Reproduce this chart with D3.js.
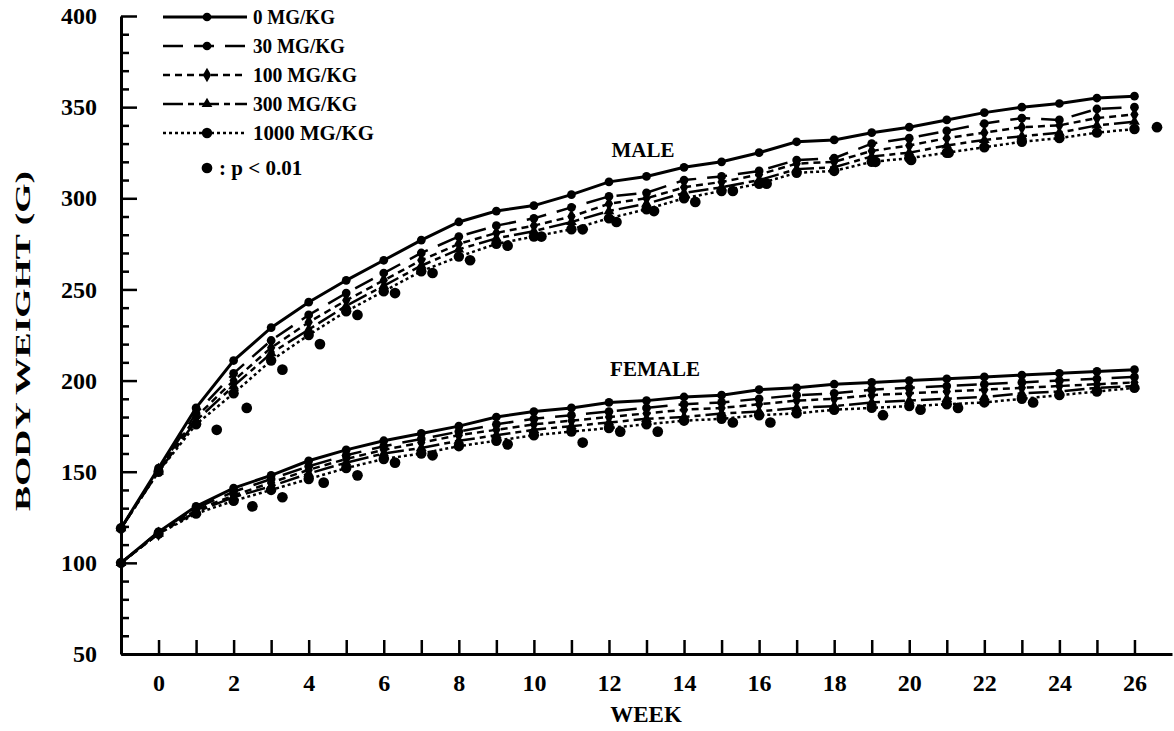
<!doctype html>
<html>
<head>
  <meta charset="utf-8">
  <script src="https://d3js.org/d3.v7.min.js"></script>
  <style>
    body {margin: 0; background: #fff;}
    text {font-family: "Liberation Serif", "DejaVu Serif", serif; font-weight: bold; fill: #000;}
    .domain {stroke: #000; stroke-width: 3;}
    .tick line {stroke: #000; stroke-width: 2.5;}
  </style>
</head>
<body>
  <svg id="chart" width="1174" height="731"></svg>
  <script>
    const width = 1174, height = 731

    // weeks (first point is pre-dosing, plotted at -1)
    const weeks = [-1, 0, 1, 2, 3, 4, 5, 6, 7, 8, 9, 10, 11, 12, 13, 14, 15, 16, 17, 18, 19, 20, 21, 22, 23, 24, 25, 26]
    const doses = ['0 MG/KG', '30 MG/KG', '100 MG/KG', '300 MG/KG', '1000 MG/KG']

    // male body weight (g)
    const male0    = [119, 152, 185, 211, 229, 243, 255, 266, 277, 287, 293, 296, 302, 309, 312, 317, 320, 325, 331, 332, 336, 339, 343, 347, 350, 352, 355, 356]
    const male30   = [119, 151, 182, 204, 222, 236, 248, 259, 270, 279, 285, 289, 295, 301, 303, 310, 312, 315, 321, 322, 330, 333, 337, 341, 344, 343, 349, 350]
    const male100  = [119, 151, 180, 200, 218, 232, 244, 255, 266, 275, 281, 285, 290, 297, 300, 306, 309, 313, 319, 320, 326, 329, 333, 336, 339, 340, 344, 346]
    const male300  = [119, 150, 178, 197, 215, 228, 241, 252, 263, 272, 278, 282, 287, 293, 297, 303, 306, 310, 316, 317, 323, 325, 329, 332, 334, 336, 340, 342]
    const male1000 = [119, 150, 176, 193, 211, 225, 238, 249, 260, 268, 275, 279, 283, 289, 294, 300, 304, 308, 314, 315, 320, 322, 325, 328, 331, 333, 336, 338]

    // female body weight (g)
    const female0    = [100, 117, 131, 141, 148, 156, 162, 167, 171, 175, 180, 183, 185, 188, 189, 191, 192, 195, 196, 198, 199, 200, 201, 202, 203, 204, 205, 206]
    const female30   = [100, 117, 130, 139, 146, 153, 159, 164, 168, 172, 176, 179, 181, 183, 185, 187, 188, 190, 192, 193, 195, 196, 197, 198, 199, 200, 201, 202]
    const female100  = [100, 116, 129, 137, 144, 151, 157, 162, 166, 170, 173, 176, 178, 180, 182, 184, 185, 187, 189, 190, 192, 193, 194, 195, 196, 197, 198, 199]
    const female300  = [100, 116, 128, 136, 142, 149, 155, 160, 163, 167, 170, 173, 175, 177, 179, 180, 182, 183, 185, 186, 188, 189, 190, 191, 193, 194, 196, 197]
    const female1000 = [100, 116, 127, 134, 140, 146, 152, 157, 160, 164, 167, 170, 172, 174, 176, 178, 179, 181, 182, 184, 185, 186, 187, 188, 190, 192, 194, 196]

    // p < 0.01 marks, drawn where they sit in the figure
    const maleStarWeek  = [1.55, 2.35, 3.3, 4.3, 5.3, 6.3, 7.3, 8.3, 9.3, 10.2, 11.3, 12.2, 13.2, 14.3, 15.3, 16.2, 19.1, 20.05, 21.05, 26.6]
    const maleStarValue = [173, 185, 206, 220, 236, 248, 259, 266, 274, 279, 283, 287, 293, 298, 304, 308, 320, 321, 325, 339]
    const femaleStarWeek  = [2.5, 3.3, 4.4, 5.3, 6.3, 7.3, 9.3, 11.3, 12.3, 13.3, 15.3, 16.3, 19.3, 20.3, 21.3, 23.3]
    const femaleStarValue = [131, 136, 144, 148, 155, 159, 165, 166, 172, 172, 177, 177, 181, 184, 185, 188]

    const yMajor = [50, 100, 150, 200, 250, 300, 350, 400]
    const yMinor = [60, 70, 80, 90, 110, 120, 130, 140, 160, 170, 180, 190, 210, 220, 230, 240, 260, 270, 280, 290, 310, 320, 330, 340, 360, 370, 380, 390]
    const xTicks = [0, 1, 2, 3, 4, 5, 6, 7, 8, 9, 10, 11, 12, 13, 14, 15, 16, 17, 18, 19, 20, 21, 22, 23, 24, 25, 26]

    const styles = [
      {dash: null,         w: 3,   sym: d3.symbolCircle,   size: 60},
      {dash: '20,11',      w: 2.5, sym: d3.symbolCircle,   size: 60},
      {dash: '7,5',        w: 2.5, sym: d3.symbolDiamond,  size: 60},
      {dash: '20,5,6,5',   w: 2.5, sym: d3.symbolTriangle, size: 50},
      {dash: '3,3',        w: 2.5, sym: d3.symbolCircle,   size: 85}
    ]

    const x = d3.scaleLinear().domain([-1, 27]).range([121, 1172])
    const y = d3.scaleLinear().domain([50, 400]).range([654, 16])

    const svg = d3.select('#chart')

    // axes
    svg.append('g')
      .attr('transform', `translate(${x(-1)},0)`)
      .call(d3.axisRight(y).tickValues(yMinor).tickSize(8).tickFormat(''))
      .call(g => g.select('.domain').remove())

    svg.append('g')
      .attr('transform', `translate(${x(-1)},0)`)
      .call(d3.axisLeft(y).tickValues(yMajor).tickSize(-16).tickSizeOuter(0).tickPadding(24))
      .call(g => g.selectAll('text').attr('font-size', 24))

    svg.append('g')
      .attr('transform', `translate(0,${y(50)})`)
      .call(d3.axisBottom(x).tickValues(xTicks).tickSize(-14).tickSizeOuter(0).tickPadding(20)
        .tickFormat(d => d % 2 === 0 ? d : ''))
      .call(g => g.selectAll('text').attr('font-size', 24))

    svg.append('text')
      .attr('transform', `translate(30,${(y(50) + y(400)) / 2 + 6}) rotate(-90)`)
      .attr('text-anchor', 'middle')
      .attr('font-size', 22)
      .attr('textLength', 340)
      .attr('lengthAdjust', 'spacingAndGlyphs')
      .text('BODY WEIGHT (G)')

    svg.append('text')
      .attr('x', 646).attr('y', 722)
      .attr('text-anchor', 'middle')
      .attr('font-size', 23)
      .text('WEEK')

    svg.append('text').attr('x', 643).attr('y', 157)
      .attr('text-anchor', 'middle').attr('font-size', 21).text('MALE')
    svg.append('text').attr('x', 655).attr('y', 376)
      .attr('text-anchor', 'middle').attr('font-size', 21).text('FEMALE')

    const line = d3.line().x((d, i) => x(weeks[i])).y(d => y(d))

    // p < 0.01 mark: a heavy dot
    const star = d3.symbol(d3.symbolCircle, 90)

    function drawGroup(series, starW, starV) {
      const g = svg.append('g')
      series.forEach((vals, k) => {
        const st = styles[k]
        g.append('path')
          .attr('d', line(vals))
          .attr('fill', 'none')
          .attr('stroke', '#000')
          .attr('stroke-width', st.w)
          .attr('stroke-dasharray', st.dash)
        g.selectAll(null)
          .data(vals)
          .join('path')
          .attr('transform', (d, i) => `translate(${x(weeks[i])},${y(d)})`)
          .attr('d', d3.symbol(st.sym, st.size))
          .attr('fill', '#000')
      })
      g.selectAll(null)
        .data(starW)
        .join('path')
        .attr('transform', (d, i) => `translate(${x(d)},${y(starV[i])})`)
        .attr('d', star)
        .attr('fill', '#000')
    }

    drawGroup([male0, male30, male100, male300, male1000], maleStarWeek, maleStarValue)
    drawGroup([female0, female30, female100, female300, female1000], femaleStarWeek, femaleStarValue)

    // legend
    const leg = svg.append('g')
    doses.forEach((name, k) => {
      const st = styles[k]
      const ly = 17 + k * 29
      leg.append('line')
        .attr('x1', 163).attr('x2', 247).attr('y1', ly).attr('y2', ly)
        .attr('stroke', '#000').attr('stroke-width', st.w)
        .attr('stroke-dasharray', st.dash)
      leg.append('path')
        .attr('transform', `translate(207,${ly})`)
        .attr('d', d3.symbol(st.sym, st.size))
      leg.append('text')
        .attr('x', 253).attr('y', ly + 7)
        .attr('font-size', 21)
        .attr('textLength', [82, 92, 104, 104, 121][k])
        .attr('lengthAdjust', 'spacingAndGlyphs')
        .text(name)
    })
    leg.append('path')
      .attr('transform', 'translate(207,168)')
      .attr('d', star)
    leg.append('text')
      .attr('x', 219).attr('y', 175)
      .attr('font-size', 21)
      .text(': p < 0.01')
  </script>
</body>
</html>
